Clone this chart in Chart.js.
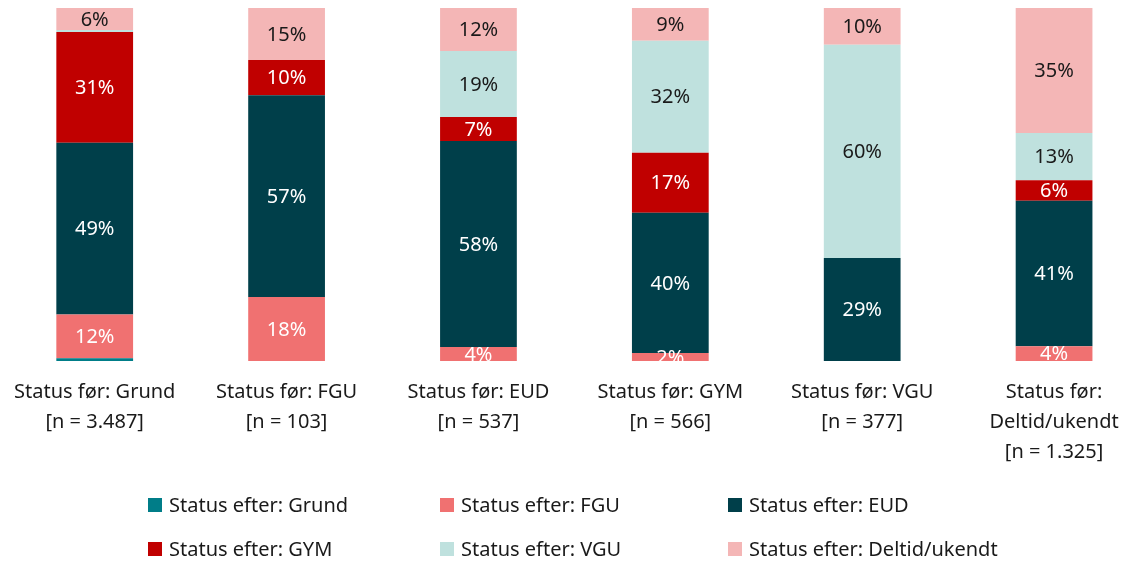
<!DOCTYPE html>
<html>
<head>
<meta charset="utf-8">
<script src="https://cdn.jsdelivr.net/npm/chart.js@4/dist/chart.umd.min.js"></script>
<style>
  html, body { margin: 0; padding: 0; background: #fff; overflow: hidden; }
  /* canvas is a bit wider than the page so the bars sit where the original has them */
  #wrap { width: 1152px; height: 563px; position: relative; margin-left: -2px; }
</style>
</head>
<body>
<div id="wrap"><canvas id="chart"></canvas></div>
<script>
const categories = [
  ['Status før: Grund', '[n = 3.487]'],
  ['Status før: FGU', '[n = 103]'],
  ['Status før: EUD', '[n = 537]'],
  ['Status før: GYM', '[n = 566]'],
  ['Status før: VGU', '[n = 377]'],
  ['Status før:', 'Deltid/ukendt', '[n = 1.325]'],
];

const seriesNames = [
  'Status efter: Grund',
  'Status efter: FGU',
  'Status efter: EUD',
  'Status efter: GYM',
  'Status efter: VGU',
  'Status efter: Deltid/ukendt',
];

// percentages per "før" group
const efterGrund  = [0.8, 0, 0, 0, 0, 0];
const efterFGU    = [12.4, 18.1, 4.0, 2.3, 0, 4.2];
const efterEUD    = [48.6, 57.2, 58.3, 39.7, 29.2, 41.2];
const efterGYM    = [31.4, 10.0, 6.8, 17.0, 0, 5.8];
const efterVGU    = [0.6, 0, 18.7, 31.7, 60.4, 13.4];
const efterDeltid = [6.2, 14.7, 12.2, 9.3, 10.4, 35.4];

const seriesValues = [efterGrund, efterFGU, efterEUD, efterGYM, efterVGU, efterDeltid];
const colors = ['#007D88', '#F07171', '#003F4A', '#C00000', '#BFE1DE', '#F4B6B6'];
const labelColors = ['#fff', '#fff', '#fff', '#fff', '#1a1a1a', '#1a1a1a'];

const FONT = '"Noto Sans", "Open Sans", sans-serif';

const segmentLabels = {
  id: 'segmentLabels',
  afterDatasetsDraw(chart) {
    const { ctx, chartArea } = chart;
    ctx.save();
    // small segments at the bottom get their label cut off, as in the original
    ctx.beginPath();
    ctx.rect(chartArea.left, chartArea.top, chartArea.width, chartArea.height);
    ctx.clip();
    ctx.font = `20px ${FONT}`;
    ctx.textAlign = 'center';
    ctx.textBaseline = 'middle';
    chart.data.datasets.forEach((ds, i) => {
      const meta = chart.getDatasetMeta(i);
      meta.data.forEach((bar, j) => {
        const v = ds.data[j];
        if (v < 1.5) return;
        const { x, y, base } = bar.getProps(['x', 'y', 'base'], true);
        ctx.fillStyle = labelColors[i];
        ctx.fillText(Math.round(v) + '%', x, (y + base) / 2 + 1);
      });
    });
    ctx.restore();
  },
};

// legend laid out as a 3x2 grid like the original
const gridLegend = {
  id: 'gridLegend',
  afterDraw(chart) {
    const { ctx } = chart;
    const colX = [150, 442, 730];
    const rowY = [505, 549];
    ctx.save();
    ctx.font = `20px ${FONT}`;
    ctx.textBaseline = 'middle';
    ctx.textAlign = 'left';
    chart.data.datasets.forEach((ds, i) => {
      const x = colX[i % 3];
      const y = rowY[Math.floor(i / 3)];
      ctx.fillStyle = ds.backgroundColor;
      ctx.fillRect(x, y - 7, 14, 14);
      ctx.fillStyle = '#1a1a1a';
      ctx.fillText(ds.label, x + 21, y + 1);
    });
    ctx.restore();
  },
};

new Chart(document.getElementById('chart'), {
  type: 'bar',
  data: {
    labels: categories,
    datasets: seriesNames.map((name, i) => ({
      label: name,
      data: seriesValues[i],
      backgroundColor: colors[i],
      borderWidth: 0,
      categoryPercentage: 1,
      barPercentage: 0.4,
    })),
  },
  options: {
    responsive: true,
    maintainAspectRatio: false,
    animation: false,
    layout: { padding: { top: 8, left: 0, right: 0, bottom: 92 } },
    plugins: {
      legend: { display: false },
      tooltip: { enabled: false },
    },
    scales: {
      x: {
        stacked: true,
        grid: { display: false, drawTicks: false },
        border: { display: false },
        ticks: {
          color: '#1a1a1a',
          padding: 16,
          maxRotation: 0,
          autoSkip: false,
          font: { family: FONT, size: 20, lineHeight: 30 / 20 },
        },
        afterFit(scale) { scale.height = 110; },
      },
      y: {
        stacked: true,
        display: false,
        min: 0,
        max: 100,
      },
    },
  },
  plugins: [segmentLabels, gridLegend],
});
</script>
</body>
</html>
